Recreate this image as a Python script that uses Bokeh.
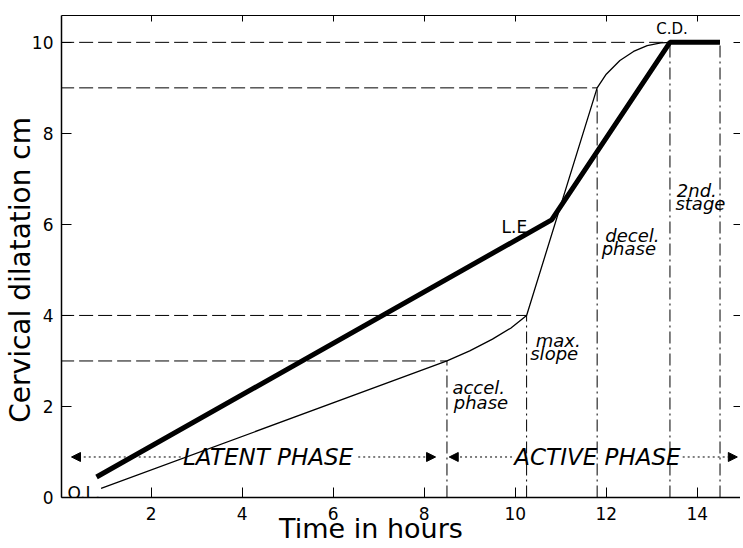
import math
from bokeh.plotting import figure
from bokeh.models import Range1d, LinearAxis, FixedTicker, Arrow, NormalHead, ColumnDataSource
from bokeh.core.properties import value
from bokeh.embed import file_html
from bokeh.resources import INLINE

# ---------------- data ----------------
hour_ticks = [2, 4, 6, 8, 10, 12, 14]
dilatation_ticks = [0, 2, 4, 6, 8, 10]

# thick "graph" line: O.L. -> L.E. -> C.D. -> end of 2nd stage
graph_hours = [0.8, 10.8, 13.4, 14.5]
graph_cm = [0.45, 6.1, 10.0, 10.0]

# thin Friedman curve
curve_hours = [0.9, 8.5, 9.0, 9.5, 9.9, 10.25, 11.8, 12.0, 12.3, 12.6, 12.9, 13.2, 13.4]
curve_cm = [0.2, 3.0, 3.22, 3.48, 3.72, 4.0, 9.0, 9.3, 9.6, 9.8, 9.93, 9.99, 10.0]

# horizontal reference levels
level_cm = [10, 9, 4, 3]
level_end_hours = [13.4, 11.8, 10.25, 8.5]

# vertical phase boundaries
phase_hours = [8.5, 10.25, 11.8, 13.4, 14.5]
phase_top_cm = [3, 4, 9, 10, 10]

# point labels
marker_labels = ["O.L.", "L.E.", "C.D."]
marker_hours = [0.16, 9.7, 13.1]
marker_cm = [0.1, 5.95, 10.3]

# sub-phase labels
sub_labels = ["accel.", "phase", "max.", "slope", "decel.", "phase", "2nd.", "stage"]
sub_hours = [8.62, 8.65, 10.45, 10.33, 11.98, 11.9, 13.55, 13.52]
sub_cm = [2.42, 2.09, 3.45, 3.17, 5.76, 5.47, 6.75, 6.45]

# phase arrows
phase_names = ["LATENT PHASE", "ACTIVE PHASE"]
phase_name_hours = [2.7, 9.98]
phase_row_cm = [0.89, 0.89]
arrow_from_hours = [2.65, 6.55, 9.93, 13.68]
arrow_to_hours = [0.25, 8.25, 8.55, 14.88]
arrow_row_cm = [0.89, 0.89, 0.89, 0.89]

FONT = "DejaVu Sans"
NBSP = "\u00a0"

p = figure(frame_width=679, frame_height=482,
           x_range=Range1d(0.03, 14.95), y_range=Range1d(0, 10.59),
           output_backend="svg", toolbar_location=None,
           min_border_left=61, min_border_right=0, min_border_top=15, min_border_bottom=51)
p.outline_line_color = None
p.grid.visible = False
p.background_fill_color = "white"
p.border_fill_color = "white"

for ax in (p.xaxis[0], p.yaxis[0]):
    ax.major_tick_in = 10
    ax.major_tick_out = 0
    ax.minor_tick_line_color = None
    ax.axis_line_color = "black"
    ax.axis_line_width = 1.5
    ax.major_tick_line_color = "black"
    ax.major_label_text_font = FONT
    ax.major_label_text_font_size = "17px"
    ax.major_label_text_color = "black"
    ax.axis_label_text_font = FONT
    ax.axis_label_text_font_style = "normal"
    ax.axis_label_text_color = "black"
p.xaxis[0].ticker = FixedTicker(ticks=hour_ticks)
p.yaxis[0].ticker = FixedTicker(ticks=dilatation_ticks)
p.xaxis[0].major_label_standoff = 9
p.yaxis[0].major_label_standoff = 8

p.yaxis[0].axis_label = "Cervical dilatation cm" + NBSP * 3
p.yaxis[0].axis_label_text_font_size = "28px"
p.yaxis[0].axis_label_standoff = -8
p.xaxis[0].axis_label = "Time in hours" + NBSP * 7
p.xaxis[0].axis_label_text_font_size = "27px"
p.xaxis[0].axis_label_standoff = -10

top = LinearAxis(ticker=FixedTicker(ticks=hour_ticks), major_tick_in=6, major_tick_out=0,
                 minor_tick_line_color=None, major_label_text_font_size="1px",
                 major_label_text_color=None, major_label_standoff=0, axis_line_color="black")
p.add_layout(top, "above")
right = LinearAxis(ticker=FixedTicker(ticks=dilatation_ticks), major_tick_in=7, major_tick_out=0,
                   minor_tick_line_color=None, major_label_text_font_size="1px",
                   major_label_text_color=None, major_label_standoff=0, axis_line_color=None)
p.add_layout(right, "right")

# reference lines
p.segment(x0=[0] * len(level_cm), y0=level_cm, x1=level_end_hours, y1=level_cm,
          line_color="black", line_width=1, line_dash="14 5")
p.segment(x0=phase_hours, y0=[0] * len(phase_hours), x1=phase_hours, y1=phase_top_cm,
          line_color="black", line_width=1, line_dash="12 4 2 4")

# curves
p.line(curve_hours, curve_cm, line_color="black", line_width=1.3)
p.line(graph_hours, graph_cm, line_color="black", line_width=5)

# arrows
asrc = ColumnDataSource(dict(x0=arrow_from_hours, x1=arrow_to_hours, y=arrow_row_cm))
p.add_layout(Arrow(source=asrc, x_start="x0", y_start="y", x_end="x1", y_end="y",
                   line_dash="2 3", line_width=1, line_color="black",
                   end=NormalHead(size=9, fill_color="black", line_color="black")))
p.text(x=phase_name_hours, y=phase_row_cm, text=phase_names, text_font=value(FONT),
       text_font_style="italic", text_font_size="23px", text_baseline="middle", text_align="left",
       text_color="black")

# labels
p.text(x=marker_hours[:2], y=marker_cm[:2], text=marker_labels[:2], text_font=value(FONT),
       text_font_size="17px", text_baseline="alphabetic", text_align="left", text_color="black")
p.text(x=marker_hours[2:], y=marker_cm[2:], text=marker_labels[2:], text_font=value(FONT),
       text_font_size="15px", text_baseline="alphabetic", text_align="left", text_color="black")
p.text(x=sub_hours, y=sub_cm, text=sub_labels, text_font=value(FONT),
       text_font_style="italic", text_font_size="18px", text_baseline="alphabetic",
       text_align="left", text_color="black")

open("out.html", "w").write(file_html(p, INLINE))
